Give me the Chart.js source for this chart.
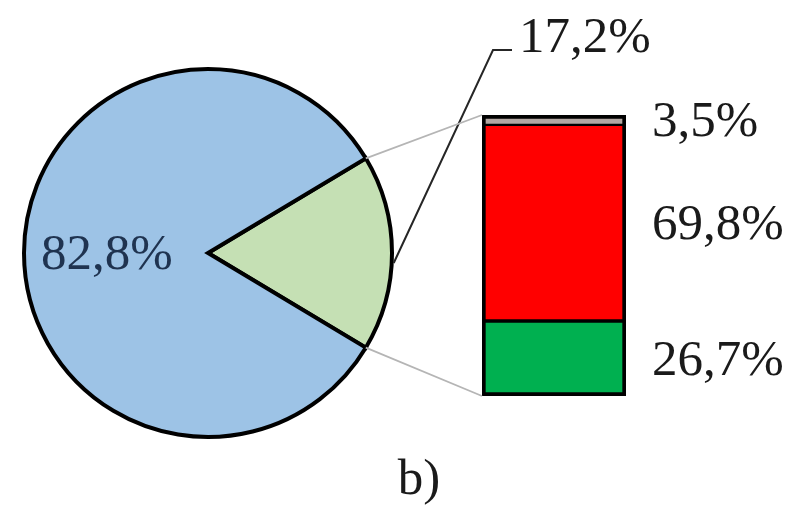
<!DOCTYPE html>
<html>
<head>
<meta charset="utf-8">
<script src="https://cdn.jsdelivr.net/npm/chart.js@4"></script>
<style>
  html, body { margin: 0; padding: 0; background: #fff; }
  #wrap { position: relative; width: 796px; height: 505px; }
  #wrap canvas { position: absolute; left: 0; top: 0; }
</style>
</head>
<body>
<div id="wrap">
  <canvas id="pie" width="796" height="505"></canvas>
  <canvas id="bar" width="796" height="505"></canvas>
</div>
<script>
// Pie: the small slice comes first so it can be centred at 3 o'clock
const pieCategories = ['Detailed part', 'Remainder'];
const pieValues = [17.2, 82.8];
const pieColors = ['#c5e0b4', '#9dc3e6'];

// Stacked bar breaking down the small slice, bottom to top
const barCategories = ['Part A', 'Part B', 'Part C'];
const barValues = [26.7, 69.8, 3.5];
const barColors = ['#00b050', '#ff0000', '#b3a7a2'];

const caption = 'b)';
const FONT = '51px "Liberation Serif", "Times New Roman", serif';

function pct(v) {
  return v.toFixed(1).replace('.', ',') + '%';
}

const pieDecor = {
  id: 'pieDecor',
  afterDraw(chart) {
    const ctx = chart.ctx;
    const arcs = chart.getDatasetMeta(0).data;
    const big = arcs[1];
    const small = arcs[0];
    ctx.save();
    ctx.font = FONT;

    // value of the large slice, inside it
    const mid = (big.startAngle + big.endAngle) / 2;
    ctx.fillStyle = '#1f3350';
    ctx.textAlign = 'center';
    ctx.textBaseline = 'middle';
    ctx.fillText(pct(pieValues[1]), big.x + Math.cos(mid) * big.outerRadius * 0.55,
                 big.y + Math.sin(mid) * big.outerRadius * 0.55 + 3);

    // leader line and label of the small slice
    const a = small.endAngle - (small.endAngle - small.startAngle) * 0.45;
    const sx = small.x + Math.cos(a) * (small.outerRadius + 2);
    const sy = small.y + Math.sin(a) * (small.outerRadius + 2);
    ctx.strokeStyle = '#262626';
    ctx.lineWidth = 2;
    ctx.beginPath();
    ctx.moveTo(sx, sy);
    ctx.lineTo(493, 50);
    ctx.lineTo(512, 50);
    ctx.stroke();
    ctx.fillStyle = '#1a1a1a';
    ctx.textAlign = 'left';
    ctx.textBaseline = 'alphabetic';
    ctx.fillText(pct(pieValues[0]), 519, 52);

    // caption
    ctx.textAlign = 'center';
    ctx.fillText(caption, 419, 494);
    ctx.restore();
  }
};

const pie = new Chart(document.getElementById('pie'), {
  type: 'pie',
  data: {
    labels: pieCategories,
    datasets: [{
      data: pieValues,
      backgroundColor: pieColors,
      borderColor: '#000',
      borderWidth: 4,
      borderJoinStyle: 'miter'
    }]
  },
  options: {
    responsive: false,
    animation: false,
    devicePixelRatio: 1,
    rotation: 90 - pieValues[0] * 1.8,
    layout: { padding: { left: 22, top: 67, right: 402, bottom: 66 } },
    plugins: { legend: { display: false }, tooltip: { enabled: false } }
  },
  plugins: [pieDecor]
});

const barDecor = {
  id: 'barDecor',
  afterDraw(chart) {
    const ctx = chart.ctx;
    const n = chart.data.datasets.length;
    const bottomEl = chart.getDatasetMeta(0).data[0];
    const topEl = chart.getDatasetMeta(n - 1).data[0];
    const left = bottomEl.x - bottomEl.width / 2;
    const right = bottomEl.x + bottomEl.width / 2;
    const small = pie.getDatasetMeta(0).data[0];

    ctx.save();
    // connectors from the small slice to the bar
    ctx.strokeStyle = '#b5b5b5';
    ctx.lineWidth = 1.8;
    ctx.beginPath();
    ctx.moveTo(small.x + Math.cos(small.startAngle) * small.outerRadius,
               small.y + Math.sin(small.startAngle) * small.outerRadius);
    ctx.lineTo(left, topEl.y);
    ctx.moveTo(small.x + Math.cos(small.endAngle) * small.outerRadius,
               small.y + Math.sin(small.endAngle) * small.outerRadius);
    ctx.lineTo(left, bottomEl.base);
    ctx.stroke();

    // segment values beside the bar
    ctx.font = FONT;
    ctx.fillStyle = '#1a1a1a';
    ctx.textAlign = 'left';
    ctx.textBaseline = 'middle';
    for (let i = 0; i < n; i++) {
      const el = chart.getDatasetMeta(i).data[0];
      const cy = (el.y + el.base) / 2;
      ctx.fillText(pct(barValues[i]), right + 26, cy + 3);
    }
    ctx.restore();
  }
};

const sideBorders = [
  { left: 4, right: 4, bottom: 4, top: 2 },
  { left: 4, right: 4, bottom: 2, top: 1.5 },
  { left: 4, right: 4, bottom: 1.5, top: 4 }
];

new Chart(document.getElementById('bar'), {
  type: 'bar',
  data: {
    labels: [''],
    datasets: barValues.map((v, i) => ({
      label: barCategories[i],
      data: [v],
      backgroundColor: barColors[i],
      borderColor: '#000',
      borderWidth: sideBorders[i],
      borderSkipped: false,
      barPercentage: 1,
      categoryPercentage: 1
    }))
  },
  options: {
    responsive: false,
    animation: false,
    devicePixelRatio: 1,
    layout: { padding: { left: 482, right: 170, top: 115, bottom: 109 } },
    scales: {
      x: { display: false, stacked: true },
      y: { display: false, stacked: true, min: 0, max: 100 }
    },
    plugins: { legend: { display: false }, tooltip: { enabled: false } }
  },
  plugins: [barDecor]
});
</script>
</body>
</html>
